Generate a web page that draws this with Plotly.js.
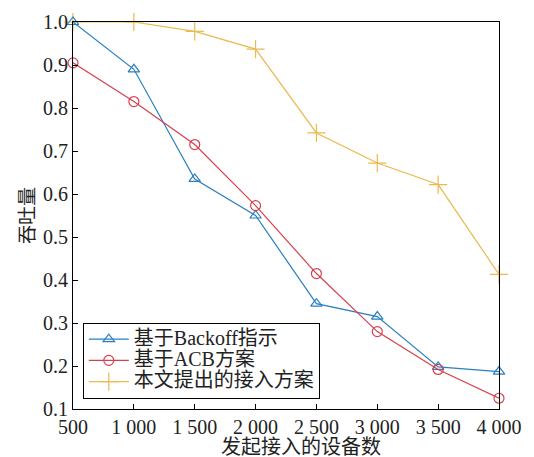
<!DOCTYPE html>
<html><head><meta charset="utf-8">
<script src="https://cdn.plot.ly/plotly-3.0.1.min.js"></script>
<style>body{margin:0;background:#fff}#c{width:534px;height:457px}</style>
</head><body><div id="c"></div>
<script>
const devices = [500, 1000, 1500, 2000, 2500, 3000, 3500, 4000];
const tickLabels = ['500', '1 000', '1 500', '2 000', '2 500', '3 000', '3 500', '4 000'];
const backoff = [1.0, 0.89, 0.635, 0.55, 0.345, 0.315, 0.198, 0.187];
const acb = [0.905, 0.815, 0.715, 0.573, 0.415, 0.28, 0.192, 0.125];
const proposed = [1.0, 1.0, 0.978, 0.937, 0.742, 0.672, 0.622, 0.413];
const names = ['基于Backoff指示', '基于ACB方案', '本文提出的接入方案'];
const xTitle = '发起接入的设备数';
const yTitle = '吞吐量';

const F = '"Liberation Serif", "Times New Roman", "Noto Sans CJK SC", serif';
const big = s => '<span style="font-size:20px">' + s + '</span>';
const traces = [
  {x: devices, y: proposed, name: big(names[2]), mode: 'lines+markers', legendrank: 3,
   line: {color: '#ecb94c', width: 1.2}, cliponaxis: false,
   marker: {symbol: 'cross-thin-open', size: 13, color: '#ecb94c', line: {width: 1.2, color: '#ecb94c'}}},
  {x: devices, y: backoff, name: big(names[0]), mode: 'lines+markers', legendrank: 1,
   line: {color: '#2a7fc0', width: 1.2}, cliponaxis: false,
   marker: {symbol: 'triangle-up-open', size: 10, color: '#2a7fc0', line: {width: 1.2}}},
  {x: devices, y: acb, name: big(names[1]), mode: 'lines+markers', legendrank: 2,
   line: {color: '#d6404e', width: 1.2}, cliponaxis: false,
   marker: {symbol: 'circle-open', size: 10, color: '#d6404e', line: {width: 1.2}}}
];
const layout = {
  width: 534, height: 457,
  margin: {l: 73, r: 35, t: 22, b: 48},
  paper_bgcolor: '#fff', plot_bgcolor: '#fff',
  font: {family: F, size: 20, color: '#222'},
  showlegend: true,
  legend: {x: 0.023, y: 0.027, xanchor: 'left', yanchor: 'bottom',
    bordercolor: '#000', borderwidth: 1, bgcolor: '#fff', itemwidth: 40,
    font: {family: F, size: 14, color: '#222'}, tracegroupgap: 0},
  xaxis: {range: [500, 4000], tickvals: devices, ticktext: tickLabels,
    showgrid: false, zeroline: false, showline: true, linecolor: '#000', linewidth: 1, mirror: true,
    ticks: 'inside', ticklen: 5, tickcolor: '#000',
    tickfont: {family: F, size: 20, color: '#222'}},
  yaxis: {range: [0.1, 1.0], dtick: 0.1, tick0: 0.1, tickformat: '.1f',
    showgrid: false, zeroline: false, showline: true, linecolor: '#000', linewidth: 1, mirror: true,
    ticks: 'inside', ticklen: 5, tickcolor: '#000',
    tickfont: {family: F, size: 20, color: '#222'},
    title: {text: yTitle, font: {family: F, size: 19, color: '#222'}, standoff: 3}},
  annotations: [{text: xTitle, xref: 'paper', yref: 'paper', x: 0.535, y: -0.098,
    xanchor: 'center', yanchor: 'middle', showarrow: false,
    font: {family: F, size: 20, color: '#222'}}]
};
Plotly.newPlot('c', traces, layout, {displayModeBar: false, staticPlot: true});
</script></body></html>
